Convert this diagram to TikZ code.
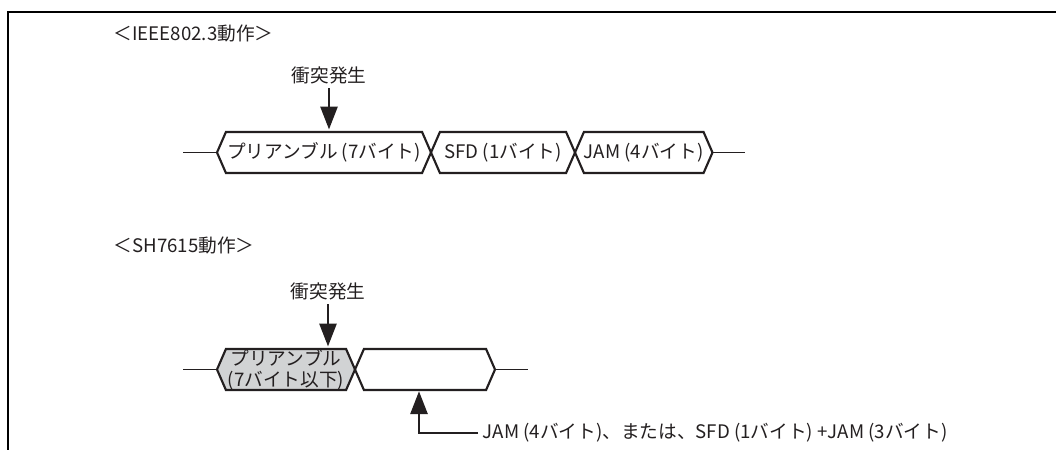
\documentclass[tikz,border=0pt]{standalone}
\usepackage{fontspec}
\setmainfont{Noto Sans CJK JP}
\usetikzlibrary{positioning,arrows.meta,shapes.symbols}
\newlength\pxl
\setlength\pxl{0.75pt}
\definecolor{ink}{HTML}{231F20}
\definecolor{shade}{HTML}{D1D3D4}
\tikzset{
  hex/.style={signal, signal to=west and east, signal pointer angle=133, draw=ink, line width=1.6pt,
    minimum height=41\pxl, inner xsep=0pt, inner ysep=0pt, outer sep=0pt, align=center, text=ink},
  lbl/.style={text=ink},
  lead/.style={draw=ink, line width=0.8pt},
  hit/.style={draw=ink, line width=1pt, -{Triangle[length=17pt, width=13pt]}},
  border/.style={draw=black, line width=1.6pt}}

\begin{document}
\begin{tikzpicture}[x=0.75pt, y=-0.75pt, font=\fontsize{14pt}{15.5pt}\selectfont]
\useasboundingbox (0,0) rectangle (1056,450);
\draw[border] (1056,12) -- (8,12) -- (8,450);
% IEEE802.3
\node[lbl, anchor=west] (ttl1) at (109,33) {＜IEEE802.3動作＞};
\node[lbl] (hit1) at (329,75) {衝突発生};
\node[hex, minimum width=214\pxl] (pre1) at (324,152.5) {プリアンブル (7バイト)};
\node[hex, minimum width=144\pxl, right=0pt of pre1] (sfd1) {SFD (1バイト)};
\node[hex, minimum width=134\pxl, right=0pt of sfd1] (jam1) {JAM (4バイト)};
\coordinate[left=34\pxl of pre1.west] (in1);
\coordinate[right=33\pxl of jam1.east] (out1);
\draw[lead] (in1) -- (pre1.west);
\draw[lead] (jam1.east) -- (out1);
\draw[hit, shorten >=2pt] (hit1) -- (hit1 |- pre1.north);
% SH7615
\node[lbl, anchor=west] (ttl2) at (109,245) {＜SH7615動作＞};
\node[lbl] (hit2) at (328,291) {衝突発生};
\node[hex, fill=shade, minimum width=138\pxl] (pre2) at (286,369.5) {プリアンブル\\(7バイト以下)};
\node[hex, minimum width=140\pxl, right=0pt of pre2] (jam2) {};
\coordinate[left=34\pxl of pre2.west] (in2);
\coordinate[right=33\pxl of jam2.east] (out2);
\draw[lead] (in2) -- (pre2.west);
\draw[lead] (jam2.east) -- (out2);
\draw[hit, shorten >=2pt] (hit2) -- (hit2 |- pre2.north);
\coordinate (up) at ([xshift=-6\pxl]jam2.south);
\node[lbl, anchor=west] (note) at (478,433) {JAM (4バイト)、または、SFD (1バイト) +JAM (3バイト)};
\draw[hit, shorten >=1pt] (note.west) -| (up);
\end{tikzpicture}
\end{document}
